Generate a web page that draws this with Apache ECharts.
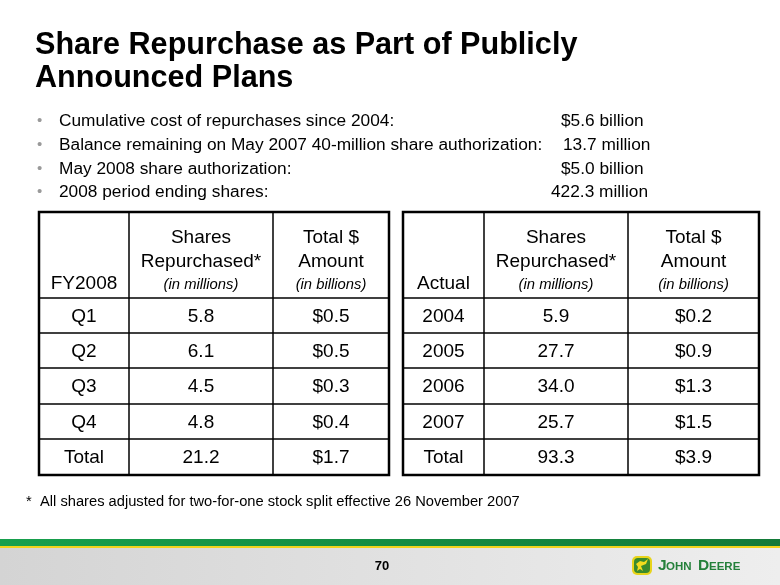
<!DOCTYPE html>
<html>
<head>
<meta charset="utf-8">
<script src="https://cdn.jsdelivr.net/npm/echarts@6/dist/echarts.min.js"></script>
<style>
  html, body { margin: 0; padding: 0; background: #fff; }
  #main { width: 780px; height: 585px; }
</style>
</head>
<body>
<div id="main"></div>
<script>
// slide text
const titleLines = ['Share Repurchase as Part of Publicly', 'Announced Plans'];
const bulletLabels = [
  'Cumulative cost of repurchases since 2004:',
  'Balance remaining on May 2007 40-million share authorization:',
  'May 2008 share authorization:',
  '2008 period ending shares:'
];
const bulletValues = ['$5.6 billion', '13.7 million', '$5.0 billion', '422.3 million'];

// table 1 - FY2008 by quarter
const fyQuarters = ['Q1', 'Q2', 'Q3', 'Q4', 'Total'];
const fyShares = ['5.8', '6.1', '4.5', '4.8', '21.2'];
const fyAmount = ['$0.5', '$0.5', '$0.3', '$0.4', '$1.7'];

// table 2 - actual by year
const actYears = ['2004', '2005', '2006', '2007', 'Total'];
const actShares = ['5.9', '27.7', '34.0', '25.7', '93.3'];
const actAmount = ['$0.2', '$0.9', '$1.3', '$1.5', '$3.9'];

const footnote = 'All shares adjusted for two-for-one stock split effective 26 November 2007';
const pageNum = '70';

const chart = echarts.init(document.getElementById('main'));
const FONT = 'Liberation Sans, Arial, sans-serif';
const els = [];

function txt(x, y, s, size, opt) {
  opt = opt || {};
  els.push({
    type: 'text', x: x, y: y, silent: true,
    style: {
      text: s, fill: opt.fill || '#000',
      font: (opt.italic ? 'italic ' : '') + (opt.bold ? 'bold ' : '') + size + 'px ' + FONT,
      textAlign: opt.align || 'left', textVerticalAlign: 'middle'
    }
  });
}
function line(x1, y1, x2, y2, w) {
  els.push({
    type: 'line', silent: true,
    shape: { x1: x1, y1: y1, x2: x2, y2: y2 },
    style: { stroke: '#000', lineWidth: w }
  });
}

// title
txt(35, 46, titleLines[0], 30.6, { bold: true });
txt(35, 79, titleLines[1], 30.6, { bold: true });

// bullets
const bY = [121, 145, 169, 192];
const valueX = [561, 563, 561, 551];
bulletLabels.forEach(function (s, i) {
  txt(37, bY[i], '•', 15, { fill: '#9a9a9a' });
  txt(59, bY[i], s, 17.3);
  txt(valueX[i], bY[i], bulletValues[i], 17.3);
});

// tables
const rowLines = [212, 298, 333, 368, 404, 439, 475];
function table(cols, firstHead, c0, c1, c2) {
  const L = cols[0], R = cols[3];
  for (let i = 1; i < rowLines.length - 1; i++) line(L, rowLines[i], R, rowLines[i], 1.5);
  line(cols[1], rowLines[0], cols[1], rowLines[6], 1.5);
  line(cols[2], rowLines[0], cols[2], rowLines[6], 1.5);
  els.push({
    type: 'rect', silent: true,
    shape: { x: L, y: rowLines[0], width: R - L, height: rowLines[6] - rowLines[0] },
    style: { fill: null, stroke: '#000', lineWidth: 2.5 }
  });
  const m0 = (cols[0] + cols[1]) / 2, m1 = (cols[1] + cols[2]) / 2, m2 = (cols[2] + cols[3]) / 2;
  txt(m0, 284, firstHead, 19, { align: 'center' });
  txt(m1, 238, 'Shares', 19, { align: 'center' });
  txt(m1, 262, 'Repurchased*', 19, { align: 'center' });
  txt(m1, 285, '(in millions)', 14.8, { align: 'center', italic: true });
  txt(m2, 238, 'Total $', 19, { align: 'center' });
  txt(m2, 262, 'Amount', 19, { align: 'center' });
  txt(m2, 285, '(in billions)', 14.8, { align: 'center', italic: true });
  for (let r = 0; r < c0.length; r++) {
    const y = (rowLines[r + 1] + rowLines[r + 2]) / 2 + 1;
    txt(m0, y, c0[r], 19, { align: 'center' });
    txt(m1, y, c1[r], 19, { align: 'center' });
    txt(m2, y, c2[r], 19, { align: 'center' });
  }
}
table([39, 129, 273, 389], 'FY2008', fyQuarters, fyShares, fyAmount);
table([403, 484, 628, 759], 'Actual', actYears, actShares, actAmount);

// footnote
txt(26, 502, '*', 14.7);
txt(40, 502, footnote, 14.7);

// footer band
els.push({
  type: 'rect', silent: true, shape: { x: 0, y: 548, width: 780, height: 37 },
  style: { fill: new echarts.graphic.LinearGradient(0, 0, 1, 0, [
    { offset: 0, color: '#d4d4d4' }, { offset: 1, color: '#eeeeee' }]) }
});
els.push({
  type: 'rect', silent: true, shape: { x: 0, y: 539, width: 780, height: 7 },
  style: { fill: new echarts.graphic.LinearGradient(0, 0, 1, 0, [
    { offset: 0, color: '#17a04d' }, { offset: 1, color: '#137a38' }]) }
});
els.push({
  type: 'rect', silent: true, shape: { x: 0, y: 546, width: 780, height: 2 },
  style: { fill: '#f2d41c' }
});
txt(382, 566, pageNum, 13, { bold: true, align: 'center' });

// logo
els.push({
  type: 'rect', silent: true, shape: { x: 632, y: 556, width: 20, height: 19, r: 5 },
  style: { fill: '#e8d41a' }
});
els.push({
  type: 'rect', silent: true, shape: { x: 634, y: 558, width: 16, height: 15, r: 4 },
  style: { fill: '#3a8a2c' }
});
els.push({
  type: 'polygon', silent: true,
  shape: { points: [[636, 564], [640, 561], [644, 562], [648, 559], [646, 564], [641, 566], [643, 571], [640, 569], [637, 571], [638, 567]] },
  style: { fill: '#f3dc1e' }
});
const logoGreen = '#24803a';
txt(658, 566, 'J', 15.5, { fill: logoGreen, bold: true });
txt(666, 567, 'OHN', 11.5, { fill: logoGreen, bold: true });
txt(698, 566, 'D', 15.5, { fill: logoGreen, bold: true });
txt(709, 567, 'EERE', 11.5, { fill: logoGreen, bold: true });

chart.setOption({ animation: false, graphic: { elements: els } });
</script>
</body>
</html>
